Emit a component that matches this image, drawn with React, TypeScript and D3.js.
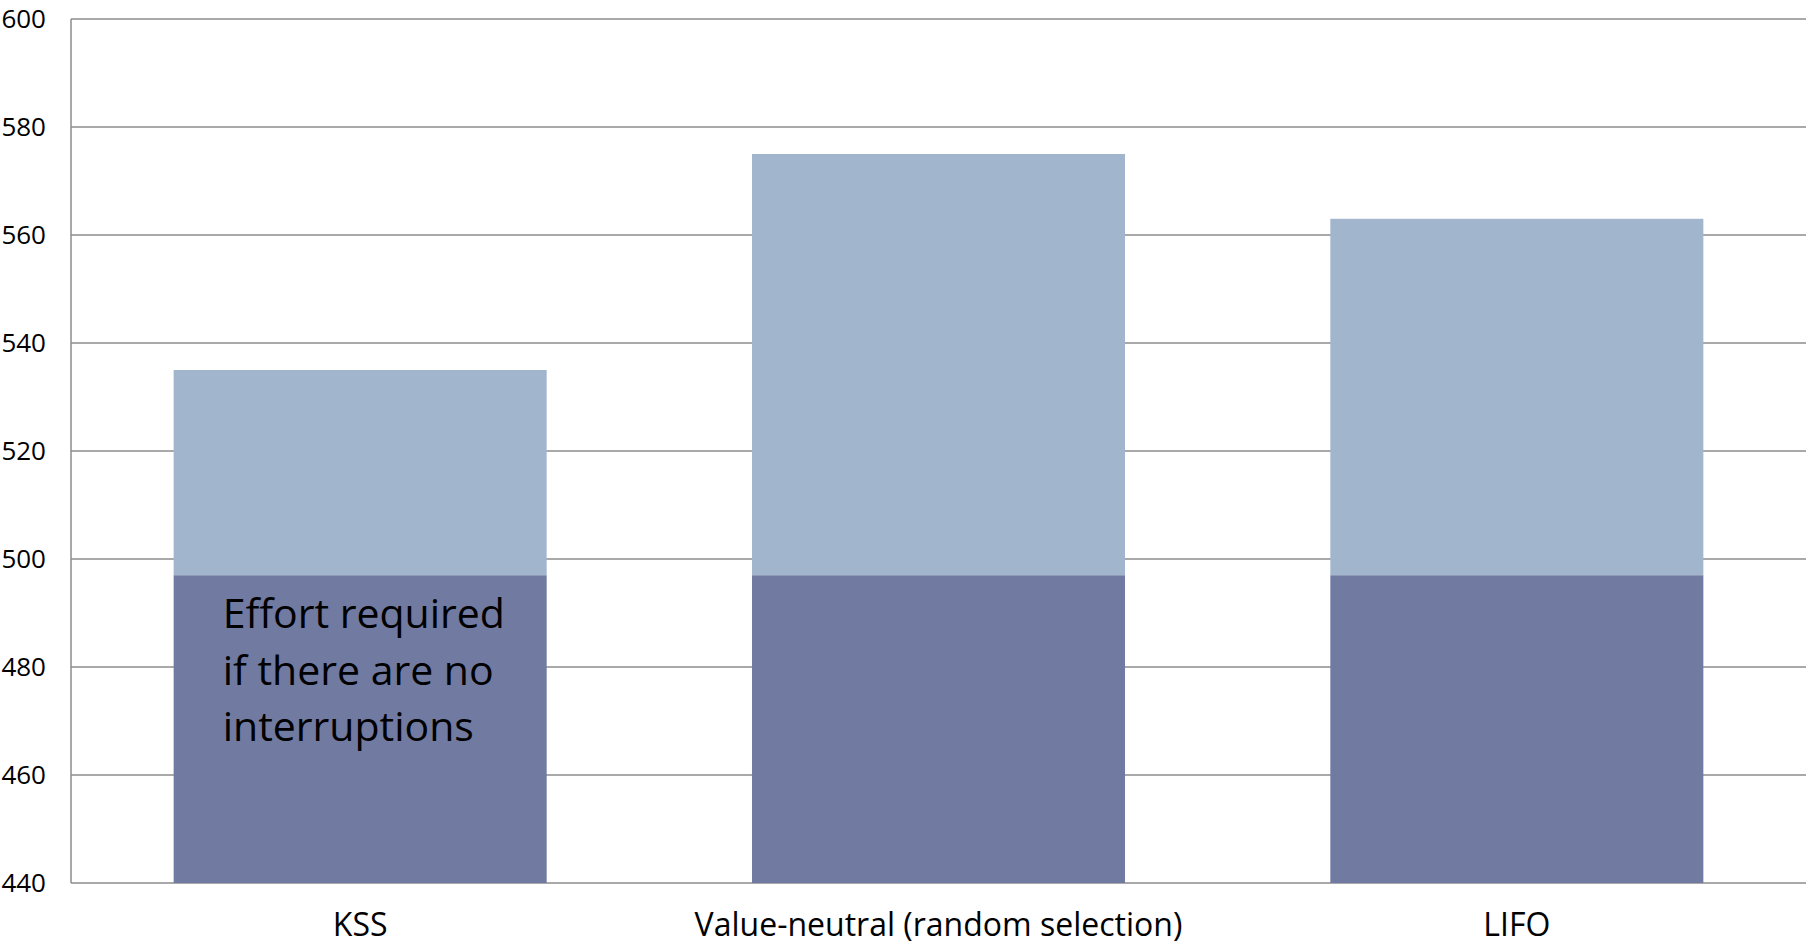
import React, { useEffect, useRef } from "react";
import * as d3 from "d3";

// Chart data
const categories = ["KSS", "Value-neutral (random selection)", "LIFO"];
const baseEffort = [497, 497, 497];
const interruptionEffort = [38, 78, 66];
const yTicks = [440, 460, 480, 500, 520, 540, 560, 580, 600];
const annotationLines = ["Effort required", "if there are no", "interruptions"];
const seriesKeys = ["base", "interruptions"];
const seriesColors = ["#717aa1", "#a1b6cd"];

const WIDTH = 1816;
const HEIGHT = 947;
const FONT = "'Open Sans', 'Lato', sans-serif";

export default function App() {
  const ref = useRef<SVGSVGElement | null>(null);

  useEffect(() => {
    const svg = d3.select(ref.current);
    svg.selectAll("*").remove();

    const left = 71;
    const right = 1806;
    const top = 19;
    const bottom = 883;

    const x = d3
      .scaleBand<string>()
      .domain(categories)
      .range([left, right])
      .paddingInner(0.355)
      .paddingOuter(0.1775);

    const y = d3.scaleLinear().domain([440, 600]).range([bottom, top]);

    const rows = categories.map((c, i) => ({
      category: c,
      base: baseEffort[i],
      interruptions: interruptionEffort[i],
    }));
    const stacked = d3.stack<any>().keys(seriesKeys)(rows);

    // horizontal gridlines
    svg
      .append("g")
      .selectAll("line")
      .data(yTicks)
      .join("line")
      .attr("x1", left)
      .attr("x2", right)
      .attr("y1", (d) => y(d))
      .attr("y2", (d) => y(d))
      .attr("stroke", "#8c8c8c")
      .attr("stroke-width", 1.5);

    // vertical axis line
    svg
      .append("line")
      .attr("x1", left)
      .attr("x2", left)
      .attr("y1", top)
      .attr("y2", bottom)
      .attr("stroke", "#8c8c8c")
      .attr("stroke-width", 1.5);

    // stacked bars (base values start at 0, clipped to the axis floor)
    const [y0] = y.domain();
    svg
      .append("g")
      .selectAll("g")
      .data(stacked)
      .join("g")
      .attr("fill", (_, i) => seriesColors[i])
      .selectAll("rect")
      .data((s) => s)
      .join("rect")
      .attr("x", (d) => x(d.data.category) as number)
      .attr("width", x.bandwidth())
      .attr("y", (d) => y(d[1]))
      .attr("height", (d) => y(Math.max(d[0], y0)) - y(d[1]));

    // y tick labels
    svg
      .append("g")
      .selectAll("text")
      .data(yTicks)
      .join("text")
      .attr("x", left - 25)
      .attr("y", (d) => y(d))
      .attr("dy", "0.35em")
      .attr("text-anchor", "end")
      .attr("font-family", FONT)
      .attr("font-size", 26)
      .attr("fill", "#000")
      .text((d) => d);

    // category labels
    svg
      .append("g")
      .selectAll("text")
      .data(categories)
      .join("text")
      .attr("x", (d) => (x(d) as number) + x.bandwidth() / 2)
      .attr("y", 936)
      .attr("text-anchor", "middle")
      .attr("font-family", FONT)
      .attr("font-size", 32)
      .attr("fill", "#000")
      .text((d) => d);

    // annotation inside the first bar
    const ann = svg
      .append("text")
      .attr("font-family", FONT)
      .attr("font-size", 41)
      .attr("fill", "#000");
    annotationLines.forEach((line, i) => {
      ann
        .append("tspan")
        .attr("x", (x(categories[0]) as number) + 49)
        .attr("y", 628 + i * 56.5)
        .text(line);
    });
  }, []);

  return (
    <svg
      ref={ref}
      width={WIDTH}
      height={HEIGHT}
      style={{ position: "absolute", left: 0, top: 0, background: "#fff" }}
    />
  );
}
